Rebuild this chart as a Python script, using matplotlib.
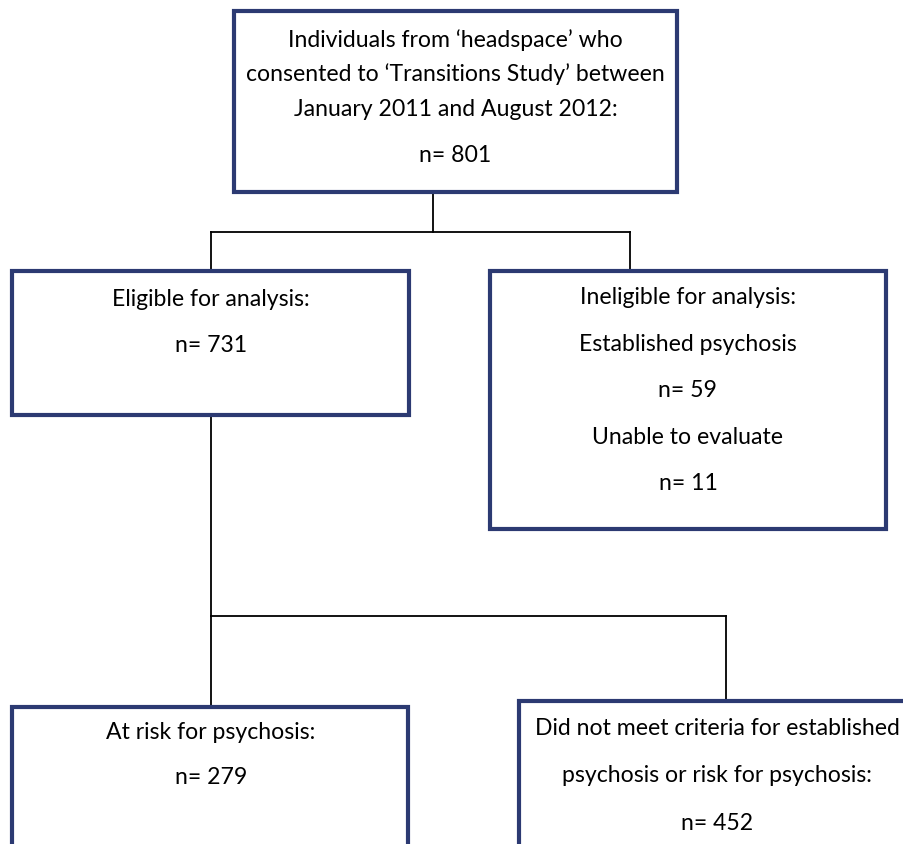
import matplotlib.pyplot as plt
from matplotlib.patches import Rectangle

plt.rcParams['font.family'] = ['Lato', 'DejaVu Sans']

# cajas del diagrama de flujo
titles = [
    ["Individuals from \u2018headspace\u2019 who",
     "consented to \u2018Transitions Study\u2019 between",
     "January 2011 and August 2012:"],
    ["Eligible for analysis:"],
    ["Ineligible for analysis:", "Established psychosis"],
    ["At risk for psychosis:"],
    ["Did not meet criteria for established",
     "psychosis or risk for psychosis:"],
]
counts = [801, 731, 59, 279, 452]
extra = {2: ["Unable to evaluate", "n= 11"]}

# posiciones en pixeles (x0, y0, x1, y1)
boxes = [
    (234, 12, 677, 193),
    (12, 272, 409, 416),
    (490, 272, 886, 530),
    (12, 708, 408, 860),
    (519, 702, 920, 860),
]
centers = [455.5, 211, 688, 211, 717]
first_line = [40, 300, 298, 733, 729]
line_gaps = [34.5, 46, 46.5, 45, 46.5]
count_gap = [46, 46, 46.5, 45, 48]

navy = '#2c3a72'
fs = 16.6

fig = plt.figure(figsize=(9.04, 8.45), dpi=100)
ax = fig.add_axes([0, 0, 1, 1])
ax.set_xlim(0, 904)
ax.set_ylim(845, 0)
ax.axis('off')

# conectores
lw = 1.3
ax.plot([433, 433], [193, 233], 'k-', lw=lw)
ax.plot([211, 630], [233, 233], 'k-', lw=lw)
ax.plot([211, 211], [233, 272], 'k-', lw=lw)
ax.plot([630, 630], [233, 272], 'k-', lw=lw)
ax.plot([211, 211], [416, 617], 'k-', lw=lw)
ax.plot([211, 726], [617, 617], 'k-', lw=lw)
ax.plot([211, 211], [617, 708], 'k-', lw=lw)
ax.plot([726, 726], [617, 702], 'k-', lw=lw)

for i, (x0, y0, x1, y1) in enumerate(boxes):
    ax.add_patch(Rectangle((x0, y0), x1 - x0, y1 - y0, facecolor='white',
                           edgecolor=navy, lw=3, zorder=3))
    cx = centers[i]
    y = first_line[i]
    for t in titles[i]:
        ax.text(cx, y, t, ha='center', va='center', fontsize=fs, zorder=4)
        y += line_gaps[i]
    y = y - line_gaps[i] + count_gap[i]
    ax.text(cx, y, "n= %d" % counts[i], ha='center', va='center',
            fontsize=fs, zorder=4)
    if i in extra:
        for t in extra[i]:
            y += line_gaps[i]
            ax.text(cx, y, t, ha='center', va='center', fontsize=fs, zorder=4)

fig.savefig('out.png', dpi=100)
